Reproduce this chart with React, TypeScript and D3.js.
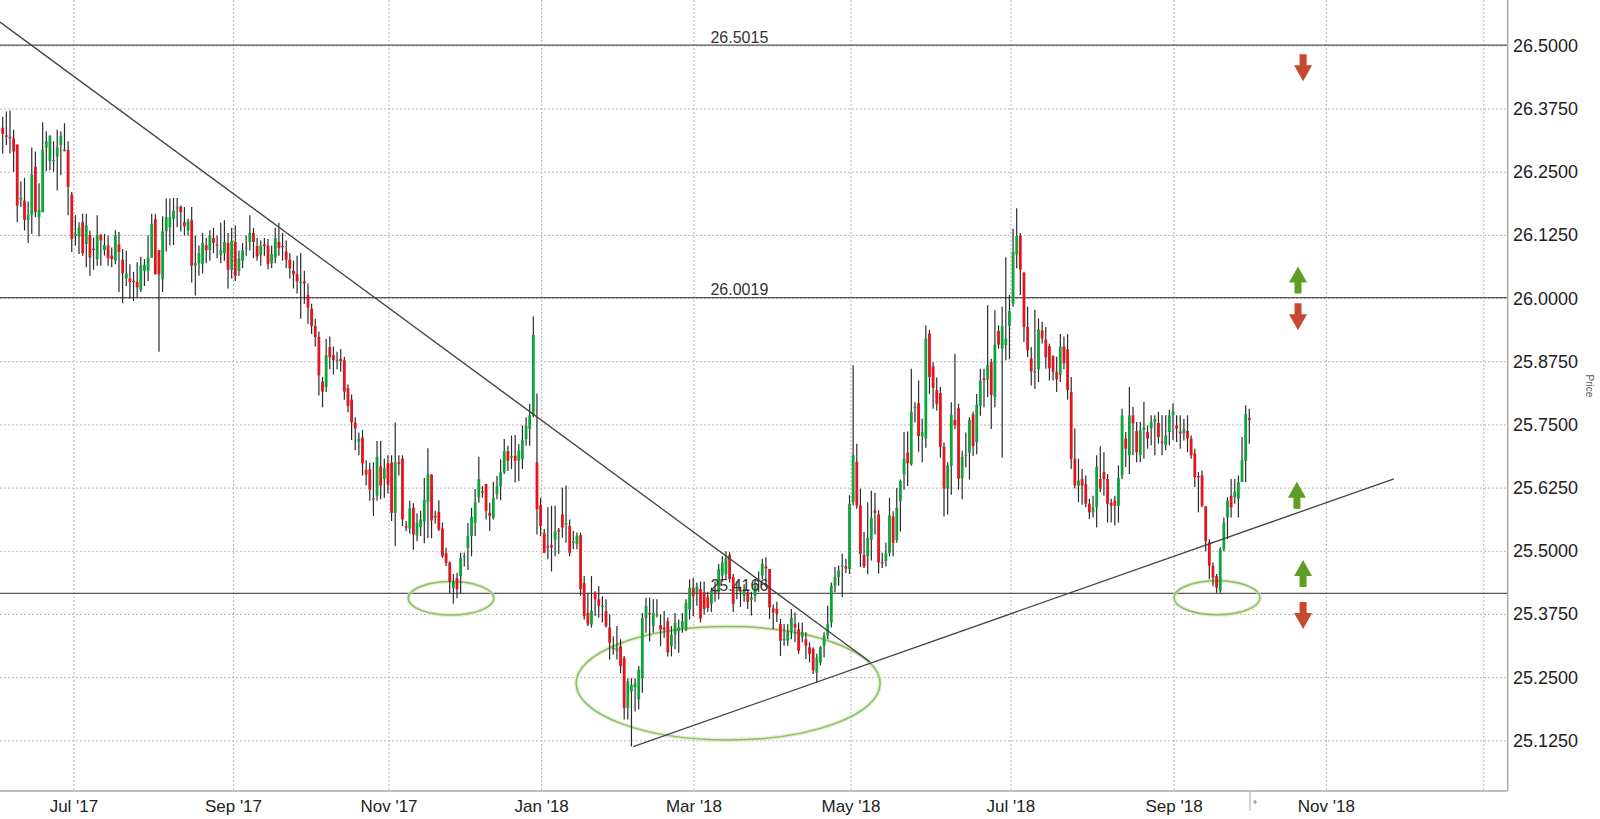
import React from "react";
import * as d3 from "d3";

type C = [number, number, number, number]; // open, high, low, close

// Jun 2017 - Aug 2017
const candlesA: C[] = [
  [26.338, 26.36, 26.287, 26.326], [26.323, 26.37, 26.304, 26.32], [26.32, 26.372, 26.287, 26.317],
  [26.317, 26.334, 26.251, 26.291], [26.305, 26.305, 26.151, 26.184], [26.196, 26.232, 26.181, 26.2],
  [26.194, 26.239, 26.135, 26.156], [26.155, 26.192, 26.11, 26.166], [26.166, 26.299, 26.128, 26.246],
  [26.261, 26.291, 26.161, 26.171], [26.161, 26.228, 26.123, 26.176], [26.171, 26.349, 26.171, 26.295],
  [26.299, 26.331, 26.252, 26.311], [26.272, 26.323, 26.254, 26.322], [26.272, 26.311, 26.251, 26.274],
  [26.281, 26.334, 26.214, 26.299], [26.304, 26.331, 26.244, 26.322], [26.292, 26.347, 26.291, 26.295],
  [26.294, 26.311, 26.165, 26.221], [26.206, 26.211, 26.092, 26.118], [26.124, 26.165, 26.105, 26.128],
  [26.123, 26.151, 26.088, 26.141], [26.151, 26.168, 26.085, 26.09], [26.108, 26.168, 26.062, 26.145],
  [26.126, 26.134, 26.045, 26.081], [26.099, 26.121, 26.057, 26.096], [26.078, 26.165, 26.065, 26.126],
  [26.126, 26.128, 26.065, 26.115], [26.096, 26.128, 26.085, 26.106], [26.105, 26.125, 26.065, 26.08],
  [26.085, 26.101, 26.062, 26.078], [26.075, 26.135, 26.068, 26.125], [26.107, 26.132, 26.013, 26.092],
  [26.077, 26.098, 25.991, 26.05], [26.04, 26.095, 26.025, 26.05], [26.04, 26.068, 26.0, 26.033],
  [26.035, 26.053, 25.995, 26.034], [26.033, 26.072, 26.002, 26.022], [26.017, 26.083, 26.013, 26.066],
  [26.055, 26.078, 26.025, 26.066], [26.055, 26.125, 26.035, 26.081], [26.081, 26.168, 26.081, 26.148],
  [26.157, 26.168, 26.048, 26.048], [26.096, 26.096, 25.895, 26.048], [26.038, 26.163, 26.013, 26.133],
  [26.133, 26.198, 26.093, 26.161], [26.141, 26.198, 26.105, 26.161], [26.158, 26.199, 26.106, 26.174],
  [26.179, 26.199, 26.141, 26.181], [26.182, 26.184, 26.133, 26.171], [26.151, 26.181, 26.125, 26.143],
  [26.135, 26.158, 26.125, 26.153], [26.155, 26.181, 26.032, 26.065], [26.065, 26.125, 26.006, 26.07],
];

// Aug 2017 - Oct 2017
const candlesB: C[] = [
  [26.07, 26.105, 26.045, 26.09], [26.068, 26.13, 26.05, 26.11], [26.106, 26.12, 26.07, 26.096],
  [26.096, 26.135, 26.075, 26.124], [26.12, 26.14, 26.09, 26.11], [26.107, 26.125, 26.08, 26.105],
  [26.087, 26.15, 26.07, 26.096], [26.09, 26.155, 26.075, 26.112], [26.11, 26.13, 26.02, 26.057],
  [26.057, 26.14, 26.04, 26.114], [26.112, 26.145, 26.035, 26.045], [26.055, 26.095, 26.045, 26.079],
  [26.075, 26.11, 26.06, 26.096], [26.099, 26.125, 26.085, 26.101], [26.112, 26.165, 26.095, 26.13],
  [26.13, 26.14, 26.08, 26.112], [26.104, 26.12, 26.075, 26.083], [26.087, 26.115, 26.065, 26.105],
  [26.107, 26.12, 26.085, 26.104], [26.105, 26.118, 26.058, 26.068], [26.07, 26.105, 26.06, 26.088],
  [26.081, 26.14, 26.07, 26.12], [26.112, 26.15, 26.085, 26.1], [26.104, 26.13, 26.075, 26.102],
  [26.093, 26.115, 26.06, 26.077], [26.077, 26.09, 26.04, 26.06], [26.055, 26.075, 26.02, 26.048],
  [26.048, 26.085, 26.01, 26.034], [26.031, 26.09, 25.96, 26.033], [26.034, 26.055, 25.99, 26.03],
  [26.007, 26.03, 25.95, 25.982], [25.98, 25.99, 25.93, 25.946], [25.946, 25.96, 25.905, 25.924],
  [25.924, 25.935, 25.808, 25.848], [25.836, 25.845, 25.785, 25.816], [25.825, 25.92, 25.815, 25.888],
  [25.904, 25.925, 25.86, 25.884], [25.888, 25.905, 25.85, 25.878], [25.876, 25.895, 25.86, 25.878],
  [25.881, 25.9, 25.855, 25.876], [25.878, 25.885, 25.8, 25.816], [25.823, 25.83, 25.775, 25.788],
  [25.8, 25.81, 25.72, 25.755], [25.755, 25.765, 25.7, 25.743], [25.717, 25.735, 25.69, 25.723],
  [25.725, 25.74, 25.65, 25.674], [25.661, 25.68, 25.63, 25.652], [25.662, 25.675, 25.6, 25.622],
];

// Oct 2017 - Jan 2018
const candlesC: C[] = [
  [25.605, 25.676, 25.57, 25.604], [25.61, 25.718, 25.6, 25.687], [25.668, 25.718, 25.603, 25.63],
  [25.643, 25.683, 25.606, 25.664], [25.674, 25.69, 25.615, 25.632], [25.676, 25.69, 25.56, 25.576],
  [25.576, 25.755, 25.51, 25.676], [25.676, 25.69, 25.65, 25.673], [25.683, 25.69, 25.55, 25.563],
  [25.55, 25.56, 25.54, 25.547], [25.545, 25.6, 25.535, 25.585], [25.586, 25.595, 25.503, 25.533],
  [25.531, 25.575, 25.52, 25.556], [25.548, 25.58, 25.53, 25.563], [25.559, 25.645, 25.516, 25.602],
  [25.598, 25.704, 25.526, 25.652], [25.652, 25.652, 25.526, 25.561], [25.57, 25.58, 25.555, 25.567],
  [25.578, 25.601, 25.54, 25.543], [25.545, 25.557, 25.487, 25.49], [25.496, 25.507, 25.471, 25.477],
  [25.478, 25.48, 25.417, 25.44], [25.427, 25.455, 25.396, 25.439], [25.447, 25.457, 25.407, 25.425],
  [25.451, 25.497, 25.417, 25.487], [25.489, 25.497, 25.47, 25.491], [25.507, 25.556, 25.463, 25.53],
  [25.53, 25.586, 25.49, 25.568], [25.556, 25.623, 25.53, 25.597], [25.606, 25.687, 25.596, 25.643],
  [25.619, 25.629, 25.606, 25.616], [25.633, 25.633, 25.563, 25.58], [25.576, 25.596, 25.54, 25.57],
  [25.566, 25.637, 25.563, 25.606], [25.613, 25.649, 25.603, 25.629], [25.629, 25.682, 25.601, 25.656],
  [25.656, 25.722, 25.653, 25.698], [25.698, 25.709, 25.659, 25.679], [25.686, 25.729, 25.663, 25.688],
  [25.689, 25.73, 25.636, 25.679], [25.679, 25.712, 25.639, 25.699], [25.682, 25.749, 25.663, 25.72],
  [25.722, 25.765, 25.709, 25.748], [25.742, 25.792, 25.709, 25.769], [25.769, 25.965, 25.765, 25.928],
  [25.676, 25.812, 25.533, 25.583], [25.591, 25.606, 25.53, 25.55], [25.536, 25.544, 25.497, 25.497],
  [25.51, 25.587, 25.484, 25.507], [25.512, 25.59, 25.46, 25.508], [25.523, 25.59, 25.49, 25.539],
  [25.542, 25.546, 25.495, 25.539],
];

// Jan 2018 - Mar 2018
const candlesD: C[] = [
  [25.573, 25.626, 25.527, 25.547], [25.553, 25.63, 25.517, 25.556], [25.55, 25.563, 25.49, 25.497],
  [25.517, 25.54, 25.504, 25.52], [25.514, 25.537, 25.504, 25.531], [25.532, 25.537, 25.412, 25.425],
  [25.437, 25.451, 25.365, 25.372], [25.378, 25.418, 25.352, 25.355], [25.355, 25.451, 25.349, 25.382],
  [25.418, 25.421, 25.372, 25.405], [25.405, 25.431, 25.369, 25.392], [25.39, 25.411, 25.359, 25.392],
  [25.382, 25.405, 25.349, 25.352], [25.349, 25.375, 25.286, 25.319], [25.309, 25.332, 25.296, 25.306],
  [25.302, 25.352, 25.286, 25.309], [25.312, 25.326, 25.259, 25.273], [25.289, 25.293, 25.167, 25.19],
  [25.19, 25.249, 25.167, 25.243], [25.223, 25.249, 25.114, 25.236], [25.231, 25.249, 25.183, 25.239],
  [25.207, 25.273, 25.187, 25.266], [25.249, 25.378, 25.22, 25.368], [25.368, 25.408, 25.339, 25.392],
  [25.378, 25.408, 25.322, 25.375], [25.352, 25.405, 25.339, 25.378], [25.373, 25.405, 25.369, 25.375],
  [25.354, 25.375, 25.312, 25.345], [25.349, 25.382, 25.329, 25.345], [25.362, 25.369, 25.292, 25.3],
  [25.312, 25.352, 25.292, 25.335], [25.335, 25.378, 25.306, 25.359], [25.342, 25.365, 25.299, 25.349],
  [25.349, 25.378, 25.339, 25.362], [25.345, 25.405, 25.342, 25.398], [25.385, 25.444, 25.365, 25.428],
  [25.428, 25.447, 25.372, 25.411], [25.418, 25.438, 25.392, 25.43],
];

// Mar 2018 - May 2018
const candlesE: C[] = [
  [25.425, 25.44, 25.359, 25.367], [25.419, 25.44, 25.375, 25.386], [25.41, 25.42, 25.38, 25.388],
  [25.396, 25.428, 25.38, 25.422], [25.422, 25.44, 25.4, 25.416], [25.419, 25.475, 25.405, 25.465],
  [25.452, 25.49, 25.44, 25.478], [25.455, 25.5, 25.445, 25.486], [25.493, 25.498, 25.438, 25.445],
  [25.449, 25.455, 25.38, 25.396], [25.421, 25.44, 25.405, 25.424], [25.424, 25.43, 25.39, 25.42],
  [25.412, 25.435, 25.4, 25.425], [25.419, 25.425, 25.386, 25.4], [25.404, 25.42, 25.373, 25.409],
  [25.412, 25.445, 25.4, 25.432], [25.44, 25.46, 25.42, 25.442], [25.452, 25.485, 25.445, 25.475],
  [25.47, 25.488, 25.43, 25.466], [25.465, 25.465, 25.366, 25.389], [25.387, 25.395, 25.346, 25.379],
  [25.386, 25.4, 25.36, 25.376], [25.356, 25.366, 25.293, 25.323], [25.324, 25.356, 25.313, 25.327],
  [25.323, 25.356, 25.313, 25.34], [25.34, 25.386, 25.326, 25.369], [25.356, 25.379, 25.32, 25.349],
  [25.346, 25.359, 25.297, 25.303], [25.33, 25.359, 25.32, 25.34], [25.326, 25.34, 25.287, 25.313],
  [25.31, 25.32, 25.28, 25.297], [25.307, 25.31, 25.257, 25.264], [25.26, 25.297, 25.24, 25.29],
  [25.28, 25.313, 25.274, 25.31], [25.313, 25.34, 25.29, 25.333], [25.333, 25.392, 25.326, 25.356],
  [25.359, 25.438, 25.349, 25.432], [25.432, 25.469, 25.419, 25.449], [25.449, 25.472, 25.432, 25.462],
  [25.47, 25.495, 25.409, 25.472], [25.47, 25.485, 25.457, 25.466], [25.465, 25.611, 25.455, 25.594],
  [25.597, 25.868, 25.591, 25.69], [25.677, 25.713, 25.584, 25.591], [25.591, 25.624, 25.469, 25.495],
  [25.493, 25.538, 25.467, 25.47], [25.49, 25.597, 25.455, 25.526], [25.523, 25.62, 25.482, 25.566],
  [25.581, 25.616, 25.533, 25.576], [25.573, 25.581, 25.456, 25.478],
];

// May 2018 - Jul 2018
const candlesF: C[] = [
  [25.478, 25.497, 25.467, 25.476], [25.481, 25.517, 25.47, 25.496], [25.497, 25.606, 25.49, 25.571],
  [25.569, 25.579, 25.49, 25.517], [25.522, 25.625, 25.517, 25.586], [25.599, 25.642, 25.539, 25.639],
  [25.652, 25.736, 25.622, 25.683], [25.695, 25.737, 25.629, 25.674], [25.672, 25.861, 25.669, 25.776],
  [25.783, 25.795, 25.755, 25.786], [25.793, 25.838, 25.697, 25.728], [25.727, 25.762, 25.676, 25.736],
  [25.723, 25.947, 25.705, 25.921], [25.931, 25.938, 25.811, 25.845], [25.866, 25.874, 25.782, 25.823],
  [25.819, 25.844, 25.778, 25.792], [25.813, 25.825, 25.685, 25.707], [25.707, 25.715, 25.569, 25.624],
  [25.624, 25.676, 25.573, 25.67], [25.669, 25.795, 25.612, 25.77], [25.76, 25.891, 25.742, 25.75],
  [25.783, 25.792, 25.622, 25.644], [25.644, 25.699, 25.603, 25.687], [25.689, 25.735, 25.666, 25.691],
  [25.695, 25.765, 25.642, 25.76], [25.771, 25.776, 25.689, 25.708], [25.716, 25.811, 25.692, 25.79],
  [25.788, 25.861, 25.768, 25.838], [25.842, 25.861, 25.785, 25.839], [25.84, 25.987, 25.805, 25.869],
  [25.874, 25.881, 25.742, 25.809], [25.805, 25.977, 25.785, 25.909], [25.936, 25.947, 25.901, 25.909],
  [25.901, 25.984, 25.685, 25.945], [25.908, 26.082, 25.878, 25.921], [25.946, 26.007, 25.88, 25.975],
  [25.99, 26.138, 25.984, 26.093], [26.087, 26.179, 26.06, 26.124], [26.125, 26.13, 26.007, 26.057],
  [26.051, 26.053, 25.914, 25.944], [25.944, 25.984, 25.884, 25.898], [25.882, 25.904, 25.828, 25.856],
  [25.853, 25.978, 25.821, 25.856], [25.86, 25.961, 25.835, 25.939], [25.937, 25.954, 25.911, 25.921],
  [25.919, 25.944, 25.861, 25.884], [25.906, 25.911, 25.838, 25.862], [25.886, 25.888, 25.838, 25.855],
  [25.855, 25.885, 25.815, 25.84],
];

// Jul 2018 - Oct 2018
const candlesG: C[] = [
  [25.849, 25.93, 25.835, 25.905], [25.905, 25.925, 25.86, 25.872], [25.9, 25.93, 25.8, 25.819],
  [25.815, 25.845, 25.663, 25.683], [25.683, 25.743, 25.624, 25.63], [25.63, 25.683, 25.597, 25.64],
  [25.643, 25.663, 25.592, 25.63], [25.633, 25.65, 25.587, 25.594], [25.594, 25.604, 25.564, 25.577],
  [25.577, 25.61, 25.567, 25.587], [25.587, 25.69, 25.547, 25.667], [25.643, 25.708, 25.617, 25.624],
  [25.657, 25.696, 25.61, 25.643], [25.643, 25.653, 25.557, 25.594], [25.596, 25.604, 25.557, 25.59],
  [25.6, 25.61, 25.551, 25.59], [25.59, 25.67, 25.557, 25.645], [25.65, 25.782, 25.643, 25.769],
  [25.723, 25.736, 25.667, 25.703], [25.69, 25.825, 25.653, 25.769], [25.769, 25.786, 25.69, 25.753],
  [25.738, 25.756, 25.676, 25.696], [25.69, 25.756, 25.676, 25.74], [25.74, 25.796, 25.683, 25.745],
  [25.736, 25.749, 25.703, 25.723], [25.743, 25.769, 25.71, 25.756], [25.756, 25.769, 25.69, 25.762],
  [25.754, 25.776, 25.713, 25.726], [25.717, 25.769, 25.69, 25.714], [25.71, 25.769, 25.7, 25.729],
  [25.736, 25.78, 25.71, 25.769], [25.769, 25.793, 25.72, 25.777], [25.749, 25.769, 25.716, 25.743],
  [25.737, 25.769, 25.703, 25.733], [25.733, 25.762, 25.719, 25.742], [25.738, 25.769, 25.696, 25.723],
  [25.723, 25.729, 25.683, 25.69], [25.694, 25.703, 25.627, 25.647], [25.649, 25.657, 25.577, 25.646],
  [25.65, 25.66, 25.587, 25.59], [25.589, 25.589, 25.5, 25.52], [25.518, 25.524, 25.445, 25.471],
  [25.471, 25.478, 25.431, 25.448], [25.451, 25.455, 25.418, 25.428], [25.422, 25.508, 25.418, 25.504],
  [25.504, 25.567, 25.5, 25.557], [25.567, 25.607, 25.524, 25.6], [25.61, 25.643, 25.567, 25.587],
  [25.607, 25.643, 25.594, 25.617], [25.604, 25.65, 25.567, 25.637], [25.637, 25.726, 25.637, 25.68],
  [25.679, 25.789, 25.637, 25.772], [25.764, 25.782, 25.713, 25.76],
];

const candles: C[] = [
  ...candlesA, ...candlesB, ...candlesC, ...candlesD, ...candlesE, ...candlesF, ...candlesG,
];

// axis content
const priceTicks = [25.125, 25.25, 25.375, 25.5, 25.625, 25.75, 25.875, 26.0, 26.125, 26.25, 26.375, 26.5];
const monthLabels = ["Jul '17", "Sep '17", "Nov '17", "Jan '18", "Mar '18", "May '18", "Jul '18", "Sep '18", "Nov '18", ""];
const monthTickIndex = [19.6, 63.5, 106.3, 148.3, 190.2, 233.4, 277.4, 322.3, 364.2, 407.5];
const todayIndex = 343.2;

// annotations (candle index, price)
const levels = [26.5015, 26.0019, 25.4166];
const levelLabelIndex = 202.7;
const trendFrom = [[-0.74, 26.547], [173.5, 25.1133]];
const trendTo = [[238.6, 25.2815], [382.8, 25.6434]];
const ellipseCenter = [[123.35, 25.407], [199.6, 25.2388], [334.1, 25.408]];
const ellipseRadius = [[11.78, 0.033], [41.82, 0.1122], [11.83, 0.0336]];
const arrowIndex = [357.8, 356.4, 356.4, 356.1, 357.8, 357.8];
const arrowPrice = [26.457, 26.037, 25.964, 25.611, 25.456, 25.373];
const arrowDir = ["down", "up", "down", "up", "up", "down"];

const W = 1600;
const H = 819;
const plotRight = 1507.7;
const plotBottom = 791;
const FONT = "'Liberation Sans', Arial, Helvetica, sans-serif";

export default function App() {
  const x = d3.scaleLinear().domain([0, candles.length - 1]).range([2.7, 1249.3]);
  const y = d3.scaleLinear().domain([25.125, 26.5]).range([740.8, 45.9]);
  const fmt = d3.format(".4f");
  const bodyW = 2.8;
  const green = "#10a23b";
  const red = "#e2161e";

  const arrowPath = (dir: string) => {
    const hw = 9, sw = 3.5, head = 16, total = 27;
    const top = -total / 2;
    if (dir === "up") {
      return `M0,${top} L${hw},${top + head} L${sw},${top + head} L${sw},${top + total} L${-sw},${top + total} L${-sw},${top + head} L${-hw},${top + head} Z`;
    }
    const bot = total / 2;
    return `M0,${bot} L${hw},${bot - head} L${sw},${bot - head} L${sw},${bot - total} L${-sw},${bot - total} L${-sw},${bot - head} L${-hw},${bot - head} Z`;
  };

  const line = d3.line<number[]>().x((d) => x(d[0])).y((d) => y(d[1]));

  return (
    <svg
      width={W}
      height={H}
      style={{ position: "absolute", left: 0, top: 0, background: "#fff" }}
      fontFamily={FONT}
    >
      <rect x={0} y={0} width={W} height={H} fill="#fff" />
      {priceTicks.map((v) => (
        <line key={"hg" + v} x1={0} x2={plotRight} y1={y(v)} y2={y(v)} stroke="#b8b8b8" strokeWidth={1} strokeDasharray="2,2" />
      ))}
      {monthTickIndex.map((m) => (
        <line key={"vg" + m} x1={x(m)} x2={x(m)} y1={0} y2={plotBottom} stroke="#b8b8b8" strokeWidth={1} strokeDasharray="2,2" />
      ))}
      {levels.map((v) => (
        <line key={"lv" + v} x1={0} x2={plotRight} y1={y(v)} y2={y(v)} stroke="#555" strokeWidth={1.3} />
      ))}
      {ellipseCenter.map((c, i) => {
        const rx = x(c[0] + ellipseRadius[i][0]) - x(c[0]);
        const ry = y(c[1] - ellipseRadius[i][1]) - y(c[1]);
        return (
          <g key={"el" + i}>
            <ellipse cx={x(c[0])} cy={y(c[1])} rx={rx} ry={ry} fill="none" stroke="#d3e8c4" strokeWidth={4} opacity={0.7} />
            <ellipse cx={x(c[0])} cy={y(c[1])} rx={rx} ry={ry} fill="none" stroke="#8cc063" strokeWidth={1.5} />
          </g>
        );
      })}
      {candles.map((c, i) => {
        const [o, h, l, cl] = c;
        const cx = x(i);
        const up = cl >= o;
        const top = y(Math.max(o, cl));
        const bh = Math.max(1.2, Math.abs(y(o) - y(cl)));
        return (
          <g key={"c" + i}>
            <line x1={cx} x2={cx} y1={y(h)} y2={y(l)} stroke="#2b2b2b" strokeWidth={1.2} />
            <rect x={cx - bodyW / 2} y={top} width={bodyW} height={bh} fill={up ? green : red} />
          </g>
        );
      })}
      {trendFrom.map((f, i) => (
        <path key={"tl" + i} d={line([f, trendTo[i]]) || ""} stroke="#444" strokeWidth={1.3} fill="none" />
      ))}
      {levels.map((v) => (
        <text key={"lt" + v} x={x(levelLabelIndex)} y={y(v) - 2.5} textAnchor="middle" fontSize={16} fill="#333">
          {fmt(v)}
        </text>
      ))}
      {arrowIndex.map((ai, i) => (
        <path
          key={"ar" + i}
          transform={`translate(${x(ai)},${y(arrowPrice[i])})`}
          d={arrowPath(arrowDir[i])}
          fill={arrowDir[i] === "up" ? "#5c9f22" : "#c9462f"}
        />
      ))}
      <line x1={plotRight} x2={plotRight} y1={0} y2={plotBottom} stroke="#a8a8a8" strokeWidth={1.5} />
      <line x1={0} x2={plotRight} y1={plotBottom} y2={plotBottom} stroke="#a8a8a8" strokeWidth={1.5} />
      <line x1={x(todayIndex)} x2={x(todayIndex)} y1={plotBottom} y2={plotBottom + 20} stroke="#aaa" strokeWidth={1} />
      <path transform={`translate(${x(todayIndex) + 5},${plotBottom + 11})`} d="M0,-2.5 L2,0 L0,2.5 L-2,0 Z" fill="#aaa" />
      {priceTicks.map((v) => (
        <text key={"yl" + v} x={1513} y={y(v)} dominantBaseline="central" fontSize={18} fill="#222">
          {fmt(v)}
        </text>
      ))}
      <text transform="translate(1586,386) rotate(90)" textAnchor="middle" fontSize={10} fill="#555">
        Price
      </text>
      {monthTickIndex.map((m, i) => (
        <text key={"xl" + m} x={x(m)} y={812} textAnchor="middle" fontSize={17} fill="#222">
          {monthLabels[i]}
        </text>
      ))}
    </svg>
  );
}
